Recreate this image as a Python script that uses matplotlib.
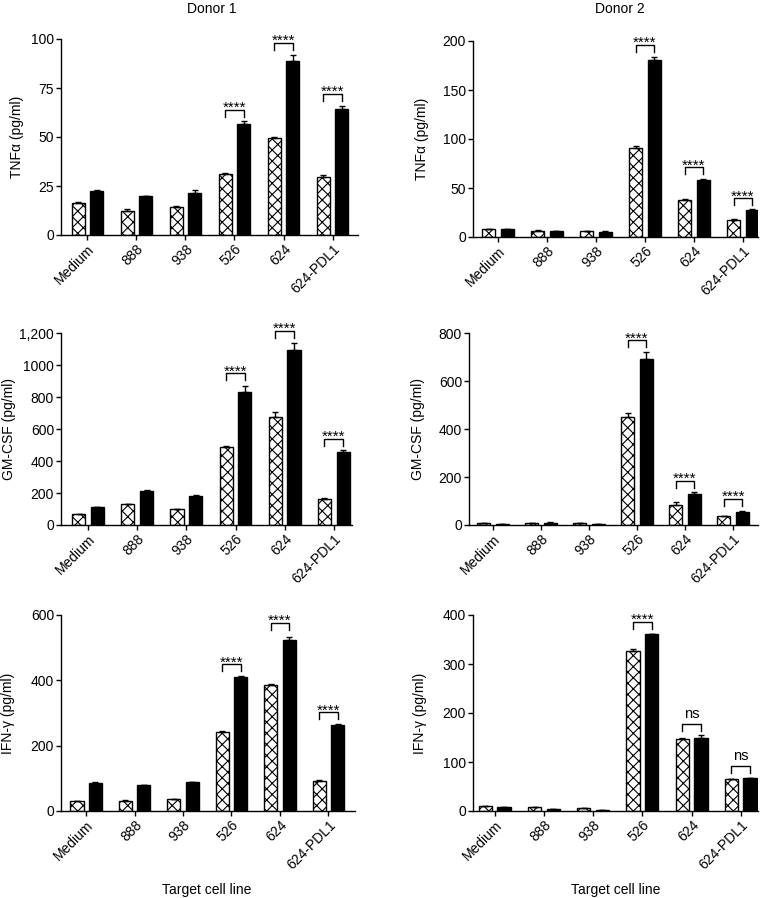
import matplotlib.pyplot as plt
import numpy as np

plt.rcParams['font.family'] = ['Liberation Sans', 'DejaVu Sans']
plt.rcParams['hatch.linewidth'] = 0.8

cells = ['Medium', '888', '938', '526', '624', '624-PDL1']

# TNFa, donor 1 / donor 2 (open = hatched bars, solid = black bars)
tnf_d1_open = [16.5, 12.4, 14.1, 31.1, 49.7, 29.6]
tnf_d1_open_err = [0.5, 1.0, 0.5, 0.5, 0.2, 0.8]
tnf_d1_solid = [22.6, 19.7, 21.3, 56.5, 88.9, 64.1]
tnf_d1_solid_err = [0.3, 0.3, 1.5, 1.5, 3.0, 1.5]

tnf_d2_open = [8.0, 6.5, 5.8, 91.0, 37.5, 17.8]
tnf_d2_open_err = [0.5, 0.3, 0.3, 1.5, 0.8, 0.5]
tnf_d2_solid = [7.8, 6.0, 5.5, 181.0, 58.5, 27.8]
tnf_d2_solid_err = [0.3, 0.3, 0.5, 3.0, 0.5, 0.5]

# GM-CSF
gm_d1_open = [67, 131, 98, 487, 673, 162]
gm_d1_open_err = [3, 3, 3, 5, 33, 8]
gm_d1_solid = [110, 212, 183, 831, 1096, 458]
gm_d1_solid_err = [5, 4, 3, 40, 44, 8]

gm_d2_open = [7, 7, 7, 451, 85, 37]
gm_d2_open_err = [1, 1, 1, 16, 11, 2]
gm_d2_solid = [4, 10, 4, 693, 131, 55]
gm_d2_solid_err = [1, 1, 1, 28, 5, 2]

# IFN-g
ifn_d1_open = [29.6, 31.6, 36.7, 243, 386, 92]
ifn_d1_open_err = [1, 1, 1, 2, 3, 3]
ifn_d1_solid = [86.7, 79.6, 88.8, 411, 522, 264]
ifn_d1_solid_err = [1, 1, 1, 2, 11, 2]

ifn_d2_open = [10.2, 8.2, 5.4, 326, 146, 64.6]
ifn_d2_open_err = [0.5, 0.5, 0.5, 5, 3, 1.5]
ifn_d2_solid = [7.5, 4.8, 2.7, 361, 150, 67.3]
ifn_d2_solid_err = [0.3, 0.3, 0.3, 0.5, 5, 0.5]

# significance brackets: (category index, bracket height, label)
tnf_d1_sig = [(3, 64, '****'), (4, 98, '****'), (5, 72, '****')]
tnf_d2_sig = [(3, 196, '****'), (4, 71, '****'), (5, 39.5, '****')]
gm_d1_sig = [(3, 948, '****'), (4, 1214, '****'), (5, 537, '****')]
gm_d2_sig = [(3, 769, '****'), (4, 185, '****'), (5, 108, '****')]
ifn_d1_sig = [(3, 449, '****'), (4, 575, '****'), (5, 302, '****')]
ifn_d2_sig = [(3, 386, '****'), (4, 178, 'ns'), (5, 92, 'ns')]

W, H = 770, 898
fig = plt.figure(figsize=(7.7, 8.98), dpi=100)

OFF = 0.19
BW = 0.27


def make_panel(box, open_v, open_e, solid_v, solid_e, ymax, yticks, ytl,
               ylabel, xlim, sig, label_px):
    left, right, top, bottom = box
    ax = fig.add_axes([left / W, 1 - bottom / H, (right - left) / W, (bottom - top) / H])
    x = np.arange(len(cells))
    ax.bar(x - OFF, open_v, BW, color='white', edgecolor='black', hatch='xxx', linewidth=1)
    ax.bar(x + OFF, solid_v, BW, color='black', edgecolor='black', linewidth=1)
    z = np.zeros(len(cells))
    ax.errorbar(x - OFF, open_v, yerr=[z, open_e], fmt='none', ecolor='black',
                elinewidth=1, capsize=2.3, capthick=1)
    ax.errorbar(x + OFF, solid_v, yerr=[z, solid_e], fmt='none', ecolor='black',
                elinewidth=1, capsize=2.3, capthick=1)

    ax.set_ylim(0, ymax)
    ax.set_xlim(*xlim)
    ax.set_yticks(yticks)
    ax.set_yticklabels(ytl, fontsize=10)
    ax.set_xticks(x)
    ax.set_xticklabels(cells, rotation=45, ha='right', rotation_mode='anchor', fontsize=10)
    ax.tick_params(length=3.5, width=1, pad=1.5)
    for s in ['top', 'right']:
        ax.spines[s].set_visible(False)
    for s in ['left', 'bottom']:
        ax.spines[s].set_linewidth(1)
    ax.set_ylabel(ylabel, fontsize=10)
    ax.yaxis.set_label_coords((label_px - left) / (right - left), 0.5)

    # brackets
    d = 7 * ymax / (bottom - top)
    for i, y, lab in sig:
        ax.plot([i - OFF, i - OFF, i + OFF, i + OFF], [y - d, y, y, y - d],
                color='black', lw=1, clip_on=False)
        if lab == 'ns':
            ax.annotate(lab, (i, y), xytext=(0, 4), textcoords='offset points',
                        ha='center', va='baseline', fontsize=10.5, annotation_clip=False)
        else:
            ax.annotate(lab, (i, y), xytext=(0, -1.5), textcoords='offset points',
                        ha='center', va='baseline', fontsize=11, annotation_clip=False)
    return ax


make_panel((61, 358, 39, 235), tnf_d1_open, tnf_d1_open_err, tnf_d1_solid, tnf_d1_solid_err,
           100, [0, 25, 50, 75, 100], ['0', '25', '50', '75', '100'],
           'TNFα (pg/ml)', (-0.54, 5.52), tnf_d1_sig, 24)
make_panel((473, 758, 41, 237), tnf_d2_open, tnf_d2_open_err, tnf_d2_solid, tnf_d2_solid_err,
           200, [0, 50, 100, 150, 200], ['0', '50', '100', '150', '200'],
           'TNFα (pg/ml)', (-0.51, 5.31), tnf_d2_sig, 429)
make_panel((61, 352, 333, 525), gm_d1_open, gm_d1_open_err, gm_d1_solid, gm_d1_solid_err,
           1200, [0, 200, 400, 600, 800, 1000, 1200],
           ['0', '200', '400', '600', '800', '1000', '1,200'],
           'GM-CSF (pg/ml)', (-0.55, 5.37), gm_d1_sig, 16)
make_panel((469, 758, 333, 525), gm_d2_open, gm_d2_open_err, gm_d2_solid, gm_d2_solid_err,
           800, [0, 200, 400, 600, 800], ['0', '200', '400', '600', '800'],
           'GM-CSF (pg/ml)', (-0.5, 5.52), gm_d2_sig, 425)
make_panel((61, 355, 615, 811), ifn_d1_open, ifn_d1_open_err, ifn_d1_solid, ifn_d1_solid_err,
           600, [0, 200, 400, 600], ['0', '200', '400', '600'],
           'IFN-γ (pg/ml)', (-0.52, 5.55), ifn_d1_sig, 15)
make_panel((473, 758, 615, 811), ifn_d2_open, ifn_d2_open_err, ifn_d2_solid, ifn_d2_solid_err,
           400, [0, 100, 200, 300, 400], ['0', '100', '200', '300', '400'],
           'IFN-γ (pg/ml)', (-0.44, 5.35), ifn_d2_sig, 427)

fig.text(212 / W, 1 - 9 / H, 'Donor 1', ha='center', va='center', fontsize=10)
fig.text(620 / W, 1 - 9 / H, 'Donor 2', ha='center', va='center', fontsize=10)
fig.text(207 / W, 1 - 890 / H, 'Target cell line', ha='center', va='center', fontsize=10)
fig.text(616 / W, 1 - 890 / H, 'Target cell line', ha='center', va='center', fontsize=10)

fig.savefig('out.png', dpi=100)
